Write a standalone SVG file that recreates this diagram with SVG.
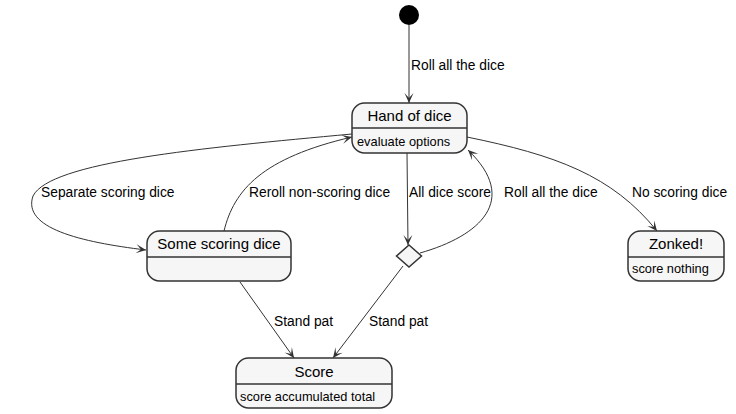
<svg xmlns="http://www.w3.org/2000/svg" width="736" height="414" viewBox="0 0 736 414">
<style>
.box{fill:#F6F6F6;stroke:#333;stroke-width:1.5}
.div{stroke:#333;stroke-width:1.5}
.title{font-family:"Liberation Sans",Arial,sans-serif;font-size:15px;fill:#000;text-anchor:middle}
.desc{font-family:"Liberation Sans",Arial,sans-serif;font-size:12.8px;fill:#000}
.lbl{font-family:"Liberation Sans",Arial,sans-serif;font-size:13.8px;fill:#000}
.edge{fill:none;stroke:#333;stroke-width:1;marker-end:url(#ah)}
</style>
<defs>
<marker id="ah" markerUnits="userSpaceOnUse" viewBox="-11 -5 12 10" refX="0" refY="0" markerWidth="12" markerHeight="10" orient="auto">
<path d="M0,0 L-10,-4.5 L-5,0 L-10,4.5 Z" fill="#333"/>
</marker>
</defs>
<rect width="736" height="414" fill="#FFFFFF"/>
<g id="connectors">
<path class="edge" d="M409,25 L409,103"/>
<path class="edge" d="M352,134 C200,148 50,162 33,196 C22,228 80,242 146,250"/>
<path class="edge" d="M224,231 C234,190 262,158 352,137"/>
<path class="edge" d="M407,153 L408,245"/>
<path class="edge" d="M420,253 C480,236 520,200 468,150"/>
<path class="edge" d="M467,137 C555,155 612,175 657,231"/>
<path class="edge" d="M240,282 L294,358"/>
<path class="edge" d="M403,266 L333,358"/>
<text class="lbl" x="411" y="70">Roll all the dice</text>
<text class="lbl" x="41" y="197">Separate scoring dice</text>
<text class="lbl" x="249" y="197">Reroll non-scoring dice</text>
<text class="lbl" x="409" y="197">All dice score</text>
<text class="lbl" x="504" y="197">Roll all the dice</text>
<text class="lbl" x="632" y="197">No scoring dice</text>
<text class="lbl" x="274" y="326">Stand pat</text>
<text class="lbl" x="369" y="326">Stand pat</text>
</g>
<g id="start">
<circle cx="409" cy="15" r="10" fill="#000"/>
</g>
<g id="hand">
<rect class="box" x="352" y="103" width="115" height="50" rx="12.5"/>
<line class="div" x1="352" y1="128" x2="467" y2="128"/>
<text class="title" x="409.5" y="121">Hand of dice</text>
<text class="desc" x="357" y="146">evaluate options</text>
</g>
<g id="some">
<rect class="box" x="147" y="231" width="144" height="50" rx="12.5"/>
<line class="div" x1="147" y1="257" x2="291" y2="257"/>
<text class="title" x="219" y="249">Some scoring dice</text>
</g>
<g id="choice">
<polygon points="409,245 421.5,256 409,267 396.5,256" fill="#F6F6F6" stroke="#333" stroke-width="1.5"/>
</g>
<g id="zonked">
<rect class="box" x="628" y="231" width="96" height="50" rx="12.5"/>
<line class="div" x1="628" y1="257" x2="724" y2="257"/>
<text class="title" x="676" y="249">Zonked!</text>
<text class="desc" x="632" y="273">score nothing</text>
</g>
<g id="score">
<rect class="box" x="236" y="358" width="156" height="50" rx="12.5"/>
<line class="div" x1="236" y1="384" x2="392" y2="384"/>
<text class="title" x="314" y="377">Score</text>
<text class="desc" x="240" y="401">score accumulated total</text>
</g>
</svg>
